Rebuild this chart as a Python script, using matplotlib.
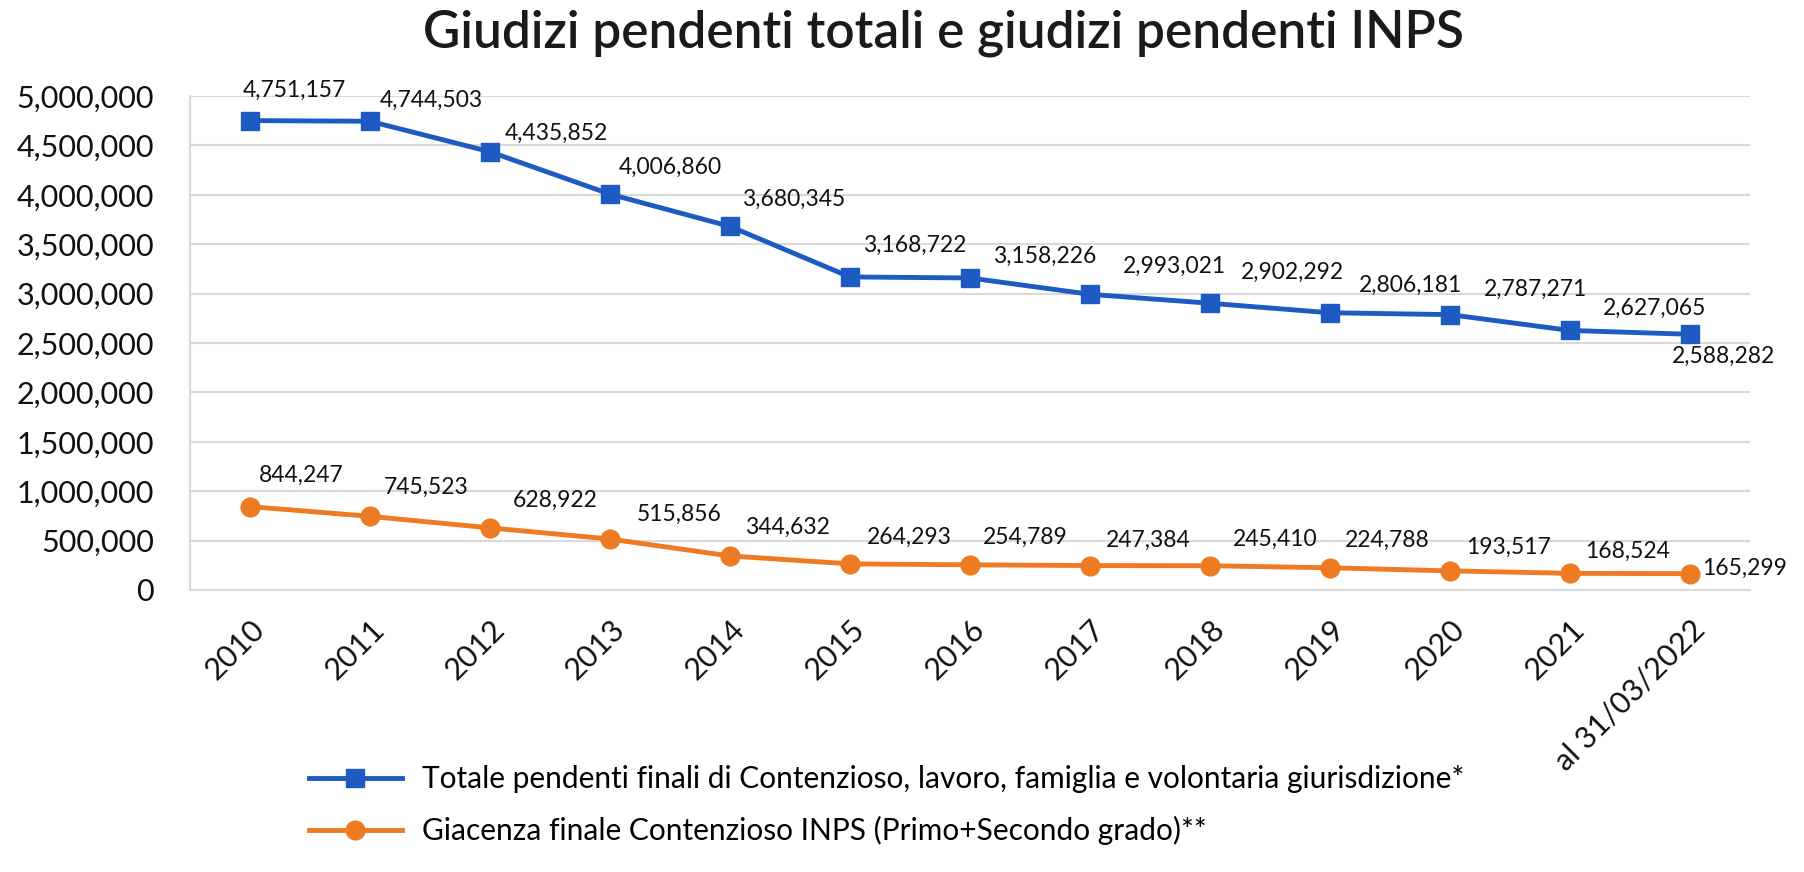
import matplotlib
matplotlib.use("Agg")
import matplotlib.pyplot as plt
from matplotlib.ticker import FuncFormatter, MultipleLocator

plt.rcParams['font.family'] = ['Lato', 'DejaVu Sans']

# dati
anni = ['2010', '2011', '2012', '2013', '2014', '2015', '2016',
        '2017', '2018', '2019', '2020', '2021', 'al 31/03/2022']
totale_pendenti = [4751157, 4744503, 4435852, 4006860, 3680345, 3168722, 3158226,
                   2993021, 2902292, 2806181, 2787271, 2627065, 2588282]
giacenza_inps = [844247, 745523, 628922, 515856, 344632, 264293, 254789,
                 247384, 245410, 224788, 193517, 168524, 165299]

nome_totale = 'Totale pendenti finali di Contenzioso, lavoro, famiglia e volontaria giurisdizione*'
nome_inps = 'Giacenza finale Contenzioso INPS (Primo+Secondo grado)**'

# spostamento delle etichette (pixel, y verso l'alto)
off_blu = [(44, 30), (61, 21), (66, 18), (60, 27), (64, 27), (65, 32), (75, 22),
           (85, 28), (83, 31), (81, 27), (86, 25), (85, 22), (34, -22)]
off_arancio = [(51, 31), (56, 29), (65, 28), (69, 25), (58, 29), (59, 27), (55, 27),
               (58, 25), (65, 26), (57, 27), (59, 24), (58, 22), (55, 5)]

blu = '#1d5bc2'
arancio = '#ee7a22'
griglia = '#d9d9d9'

fig = plt.figure(figsize=(18.04, 8.72), dpi=100)
ax = fig.add_axes([0.1053, 0.3234, 0.8647, 0.5665])

x = list(range(len(anni)))
ax.plot(x, totale_pendenti, color=blu, lw=3.5, marker='s', markersize=13.5,
        label=nome_totale, zorder=3)
ax.plot(x, giacenza_inps, color=arancio, lw=3.5, marker='o', markersize=13.5,
        label=nome_inps, zorder=3)

for i in x:
    ax.annotate(f'{totale_pendenti[i]:,}', (i, totale_pendenti[i]), xytext=off_blu[i],
                textcoords='offset pixels', ha='center', va='center', fontsize=16.5,
                color='#111111')
    ax.annotate(f'{giacenza_inps[i]:,}', (i, giacenza_inps[i]), xytext=off_arancio[i],
                textcoords='offset pixels', ha='center', va='center', fontsize=16.5,
                color='#111111')

ax.set_xlim(-0.5, len(anni) - 0.5)
ax.set_ylim(0, 5000000)
ax.yaxis.set_major_locator(MultipleLocator(500000))
ax.yaxis.set_major_formatter(FuncFormatter(lambda v, p: f'{int(v):,}'))
ax.set_xticks(x)
ax.set_xticklabels(anni, rotation=45, ha='right', rotation_mode='anchor')
ax.tick_params(axis='both', length=0, labelsize=22, labelcolor='#111111')
ax.tick_params(axis='y', pad=26)
ax.tick_params(axis='x', pad=18)

ax.grid(axis='y', color=griglia, lw=1.5)
ax.set_axisbelow(True)
for s in ['top', 'right']:
    ax.spines[s].set_visible(False)
for s in ['left', 'bottom']:
    ax.spines[s].set_color(griglia)
    ax.spines[s].set_linewidth(1.5)

fig.text(0.523, 0.962, 'Giudizi pendenti totali e giudizi pendenti INPS',
         ha='center', va='center', fontsize=37, fontweight='semibold', color='#1a1a1a')

fig.legend(loc='upper left', bbox_to_anchor=(0.1713, 0.1227), frameon=False,
           fontsize=21.5, handlelength=3.1, handletextpad=0.7, labelspacing=0.78,
           borderpad=0, borderaxespad=0)

fig.savefig('out.png', dpi=100)
